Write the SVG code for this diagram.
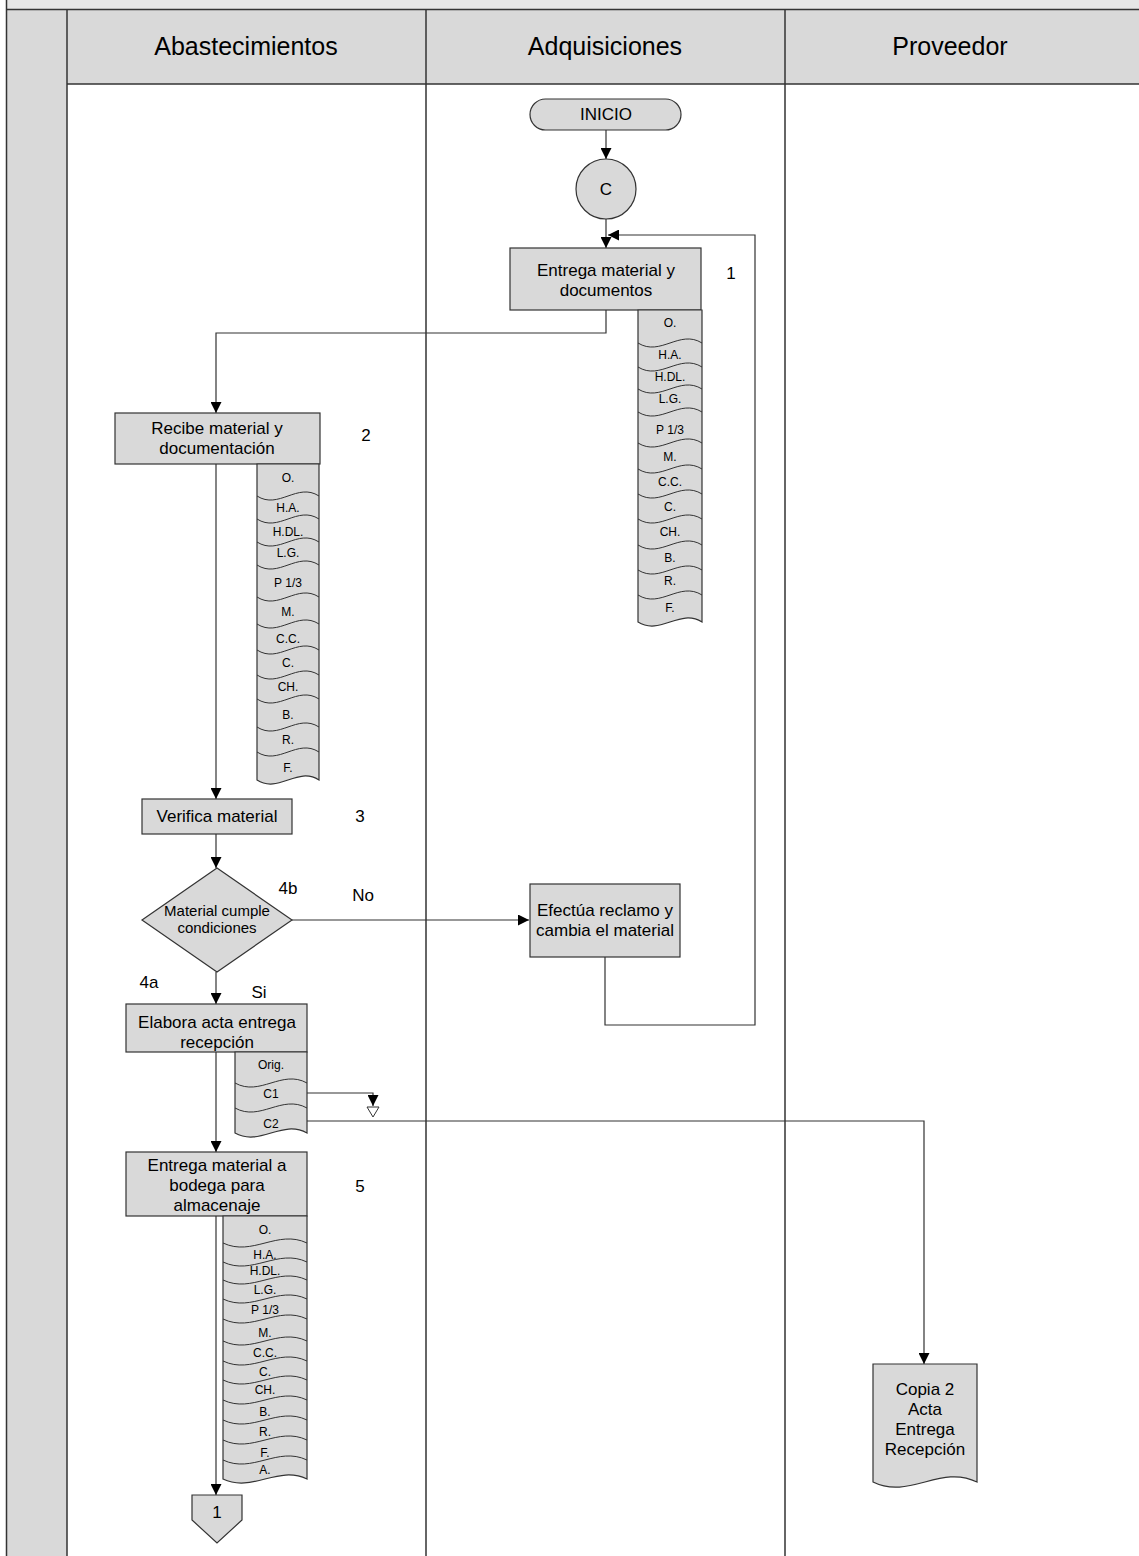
<svg xmlns="http://www.w3.org/2000/svg" width="1139" height="1556" viewBox="0 0 1139 1556">
<defs>
<style>
.lane{stroke:#333;stroke-width:1.5;fill:none}
.box{fill:#d9d9d9;stroke:#333;stroke-width:1.2}
.t{font-family:"Liberation Sans",Arial,sans-serif;font-size:17px;fill:#000;text-anchor:middle}
.s{font-size:12px}
.h{font-size:25px}
.m{font-size:15px}
.c{stroke:#333;stroke-width:1.2;fill:none}
.w{stroke:#333;stroke-width:1;fill:none}
</style>
<marker id="arr" markerWidth="11" markerHeight="11" refX="11" refY="5.5" orient="auto" markerUnits="userSpaceOnUse">
<path d="M0,0 L11,5.5 L0,11 Z" fill="#000"/>
</marker>
</defs>
<rect width="1139" height="1556" fill="#fff"/>
<g id="frame">
<rect x="7" y="0" width="1132" height="9" fill="#e6e6e6"/>
<rect x="7" y="10" width="60" height="1546" fill="#d9d9d9"/>
<rect x="67" y="10" width="1072" height="74" fill="#d9d9d9"/>
<line class="lane" x1="6.5" y1="0" x2="6.5" y2="1556"/>
<line class="lane" x1="7" y1="9.5" x2="1139" y2="9.5"/>
<line class="lane" x1="67" y1="84" x2="1139" y2="84"/>
<line class="lane" x1="67" y1="10" x2="67" y2="1556"/>
<line class="lane" x1="426" y1="10" x2="426" y2="1556"/>
<line class="lane" x1="785" y1="10" x2="785" y2="1556"/>
<text class="t h" x="246" y="55">Abastecimientos</text>
<text class="t h" x="605" y="55">Adquisiciones</text>
<text class="t h" x="950" y="55">Proveedor</text>
</g>
<g id="connectors">
<line class="c" x1="606" y1="130" x2="606" y2="159" marker-end="url(#arr)"/>
<line class="c" x1="606" y1="219" x2="606" y2="248" marker-end="url(#arr)"/>
<polyline class="c" points="606,310 606,333 216,333 216,413" marker-end="url(#arr)"/>
<line class="c" x1="216" y1="464" x2="216" y2="799" marker-end="url(#arr)"/>
<line class="c" x1="216" y1="834" x2="216" y2="868" marker-end="url(#arr)"/>
<line class="c" x1="292" y1="920" x2="529" y2="920" marker-end="url(#arr)"/>
<polyline class="c" points="605,957 605,1025 755,1025 755,235 608,235" marker-end="url(#arr)"/>
<line class="c" x1="216" y1="972" x2="216" y2="1004" marker-end="url(#arr)"/>
<line class="c" x1="216" y1="1052" x2="216" y2="1152" marker-end="url(#arr)"/>
<polyline class="c" points="307,1093 373,1093 373,1106" marker-end="url(#arr)"/>
<polyline class="c" points="307,1121 924,1121 924,1364" marker-end="url(#arr)"/>
<line class="c" x1="216" y1="1216" x2="216" y2="1495" marker-end="url(#arr)"/>
<text class="t" x="288" y="894">4b</text>
<text class="t" x="363" y="901">No</text>
<text class="t" x="149" y="988">4a</text>
<text class="t" x="259" y="998">Si</text>
</g>
<g id="inicio">
<rect class="box" x="530" y="99" width="151" height="31" rx="15.5"/>
<text class="t" x="606" y="120">INICIO</text>
</g>
<g id="conector-c">
<circle class="box" cx="606" cy="189" r="30"/>
<text class="t" x="606" y="195">C</text>
</g>
<g id="paso1">
<rect class="box" x="510" y="248" width="191" height="62"/>
<text class="t" x="606" y="276">Entrega material y</text>
<text class="t" x="606" y="296">documentos</text>
<text class="t" x="731" y="279">1</text>
</g>
<g id="docs1">
<path class="box" d="M638,310 H702 V622 C679.6,608 660.4,636 638,622 Z"/>
<path class="w" d="M638,343 C660.4,357 679.6,329 702,343 M638,367 C660.4,381 679.6,353 702,367 M638,389 C660.4,403 679.6,375 702,389 M638,412 C660.4,426 679.6,398 702,412 M638,443 C660.4,457 679.6,429 702,443 M638,469 C660.4,483 679.6,455 702,469 M638,494 C660.4,508 679.6,480 702,494 M638,519 C660.4,533 679.6,505 702,519 M638,545 C660.4,559 679.6,531 702,545 M638,570 C660.4,584 679.6,556 702,570 M638,595 C660.4,609 679.6,581 702,595"/>
<text class="t s" x="670" y="327">O.</text>
<text class="t s" x="670" y="359">H.A.</text>
<text class="t s" x="670" y="381">H.DL.</text>
<text class="t s" x="670" y="403">L.G.</text>
<text class="t s" x="670" y="434">P 1/3</text>
<text class="t s" x="670" y="461">M.</text>
<text class="t s" x="670" y="486">C.C.</text>
<text class="t s" x="670" y="511">C.</text>
<text class="t s" x="670" y="536">CH.</text>
<text class="t s" x="670" y="562">B.</text>
<text class="t s" x="670" y="585">R.</text>
<text class="t s" x="670" y="612">F.</text>
</g>
<g id="paso2">
<rect class="box" x="115" y="413" width="205" height="51"/>
<text class="t" x="217" y="434">Recibe material y</text>
<text class="t" x="217" y="454">documentación</text>
<text class="t" x="366" y="441">2</text>
</g>
<g id="docs2">
<path class="box" d="M257,464 H319 V780 C297.3,766 278.7,794 257,780 Z"/>
<path class="w" d="M257,496 C278.7,510 297.3,482 319,496 M257,519 C278.7,533 297.3,505 319,519 M257,542 C278.7,556 297.3,528 319,542 M257,565 C278.7,579 297.3,551 319,565 M257,597 C278.7,611 297.3,583 319,597 M257,624 C278.7,638 297.3,610 319,624 M257,650 C278.7,664 297.3,636 319,650 M257,675 C278.7,689 297.3,661 319,675 M257,699 C278.7,713 297.3,685 319,699 M257,727 C278.7,741 297.3,713 319,727 M257,752 C278.7,766 297.3,738 319,752"/>
<text class="t s" x="288" y="482">O.</text>
<text class="t s" x="288" y="512">H.A.</text>
<text class="t s" x="288" y="536">H.DL.</text>
<text class="t s" x="288" y="557">L.G.</text>
<text class="t s" x="288" y="587">P 1/3</text>
<text class="t s" x="288" y="616">M.</text>
<text class="t s" x="288" y="643">C.C.</text>
<text class="t s" x="288" y="667">C.</text>
<text class="t s" x="288" y="691">CH.</text>
<text class="t s" x="288" y="719">B.</text>
<text class="t s" x="288" y="744">R.</text>
<text class="t s" x="288" y="772">F.</text>
</g>
<g id="paso3">
<rect class="box" x="142" y="799" width="150" height="35"/>
<text class="t" x="217" y="822">Verifica material</text>
<text class="t" x="360" y="822">3</text>
</g>
<g id="decision4">
<polygon class="box" points="217,868 292,920 217,972 142,920"/>
<text class="t m" x="217" y="916">Material cumple</text>
<text class="t m" x="217" y="933">condiciones</text>
</g>
<g id="reclamo">
<rect class="box" x="530" y="884" width="150" height="73"/>
<text class="t" x="605" y="916">Efectúa reclamo y</text>
<text class="t" x="605" y="936">cambia el material</text>
</g>
<g id="paso4a">
<rect class="box" x="126" y="1004" width="181" height="48"/>
<text class="t" x="217" y="1028">Elabora acta entrega</text>
<text class="t" x="217" y="1048">recepción</text>
</g>
<g id="docs3">
<path class="box" d="M235,1052 H307 V1133 C281.8,1119 260.2,1147 235,1133 Z"/>
<path class="w" d="M235,1083 C260.2,1097 281.8,1069 307,1083 M235,1108 C260.2,1122 281.8,1094 307,1108"/>
<text class="t s" x="271" y="1069">Orig.</text>
<text class="t s" x="271" y="1098">C1</text>
<text class="t s" x="271" y="1128">C2</text>
</g>
<g id="archivo">
<polygon points="367,1107 379,1107 373,1117" fill="#fff" stroke="#333" stroke-width="1"/>
</g>
<g id="paso5">
<rect class="box" x="126" y="1152" width="181" height="64"/>
<text class="t" x="217" y="1171">Entrega material a</text>
<text class="t" x="217" y="1191">bodega para</text>
<text class="t" x="217" y="1211">almacenaje</text>
<text class="t" x="360" y="1192">5</text>
</g>
<g id="docs4">
<path class="box" d="M223,1216 H307 V1479 C277.6,1465 252.4,1493 223,1479 Z"/>
<path class="w" d="M223,1243 C252.4,1257 277.6,1229 307,1243 M223,1262 C252.4,1276 277.6,1248 307,1262 M223,1280 C252.4,1294 277.6,1266 307,1280 M223,1299 C252.4,1313 277.6,1285 307,1299 M223,1319 C252.4,1333 277.6,1305 307,1319 M223,1341 C252.4,1355 277.6,1327 307,1341 M223,1361 C252.4,1375 277.6,1347 307,1361 M223,1380 C252.4,1394 277.6,1366 307,1380 M223,1400 C252.4,1414 277.6,1386 307,1400 M223,1420 C252.4,1434 277.6,1406 307,1420 M223,1440 C252.4,1454 277.6,1426 307,1440 M223,1460 C252.4,1474 277.6,1446 307,1460"/>
<text class="t s" x="265" y="1234">O.</text>
<text class="t s" x="265" y="1259">H.A.</text>
<text class="t s" x="265" y="1275">H.DL.</text>
<text class="t s" x="265" y="1294">L.G.</text>
<text class="t s" x="265" y="1314">P 1/3</text>
<text class="t s" x="265" y="1337">M.</text>
<text class="t s" x="265" y="1357">C.C.</text>
<text class="t s" x="265" y="1376">C.</text>
<text class="t s" x="265" y="1394">CH.</text>
<text class="t s" x="265" y="1416">B.</text>
<text class="t s" x="265" y="1436">R.</text>
<text class="t s" x="265" y="1457">F.</text>
<text class="t s" x="265" y="1474">A.</text>
</g>
<g id="fuera-pagina-1">
<polygon class="box" points="192,1495 242,1495 242,1520 217,1543 192,1520"/>
<text class="t" x="217" y="1518">1</text>
</g>
<g id="copia2">
<path class="box" d="M873,1364 H977 V1482 C940.6,1464 909.4,1500 873,1482 Z"/>
<text class="t" x="925" y="1395">Copia 2</text>
<text class="t" x="925" y="1415">Acta</text>
<text class="t" x="925" y="1435">Entrega</text>
<text class="t" x="925" y="1455">Recepción</text>
</g>
</svg>
